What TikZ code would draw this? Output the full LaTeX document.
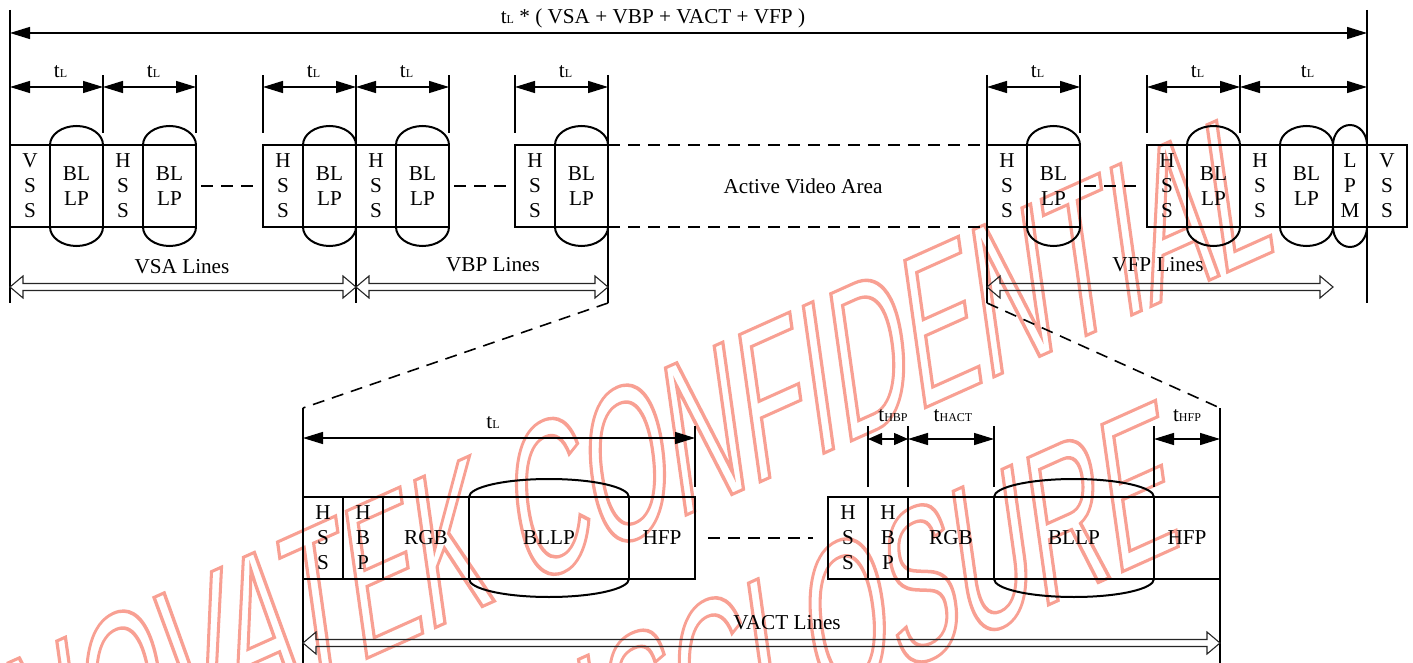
\documentclass[tikz,border=0pt]{standalone}
\usepackage{fontspec}
\setmainfont{Liberation Serif}
\newfontfamily\wmfont[FakeStretch=0.5]{Liberation Sans}
\usetikzlibrary{arrows.meta,calc,positioning}
\definecolor{WmRed}{HTML}{F8A093}
\newcommand{\tsub}[1]{t{\fontsize{6}{7}\selectfont #1}}
\newcommand{\lblfont}{\fontsize{10.6}{12.5}\selectfont}
\newcommand{\wmoutline}[1]{\special{pdf:literal direct 1 Tr 1.6 w}#1\special{pdf:literal direct 0 Tr}}
\newcommand{\hollowarrow}[2]{%
  \draw[hollow] (#1) -- ++(13,-11) -- ++(0,7.5) -- ($(#2)+(-13,-3.5)$)
    -- ++(0,-7.5) -- (#2) -- ++(-13,11) -- ++(0,-7.5)
    -- ($(#1)+(13,3.5)$) -- ++(0,7.5) -- cycle;}

\begin{document}
\begin{tikzpicture}[x=0.5pt,y=-0.5pt,font=\lblfont,
  cell/.style={draw,line width=0.9pt,minimum height=41pt,inner sep=0pt,
    outer sep=0pt,anchor=north west,align=center},
  capline/.style={line width=1pt},
  dim/.style={line width=0.7pt,
    {Triangle[length=10pt,width=6pt]}-{Triangle[length=10pt,width=6pt]}},
  dimsm/.style={line width=0.7pt,
    {Triangle[length=7pt,width=6pt]}-{Triangle[length=7pt,width=6pt]}},
  ext/.style={line width=0.6pt},
  gap/.style={line width=0.8pt,dash pattern=on 6pt off 4pt},
  hollow/.style={line width=0.55pt,draw=black!85},
  tl/.style={midway,anchor=base,yshift=4.75pt,xshift=2pt},
  th/.style={midway,anchor=base,yshift=8.75pt},
  wm/.style={rotate=8,yslant=0.29,text=WmRed,inner sep=0pt,anchor=base west,
    font=\wmfont\fontsize{108}{108}\selectfont}]

\useasboundingbox (0,0) rectangle (1413,663);

% watermark
\node[wm] (wm1) at (20,814) {\wmoutline{NOVATEK CONFIDENTIAL}};
\node[wm] (wm2) at (333,926) {\wmoutline{NO DISCLOSURE}};

% upper row: VSA / VBP lines
\node[cell,minimum width=20pt] (vss1) at (10,145) {V\\S\\S};
\node[cell,minimum width=26.5pt,right=0pt of vss1] (bl1) {BL\\LP};
\node[cell,minimum width=20pt,right=0pt of bl1] (hs1) {H\\S\\S};
\node[cell,minimum width=26.5pt,right=0pt of hs1] (bl2) {BL\\LP};

\node[cell,minimum width=20pt] (hs2) at (263,145) {H\\S\\S};
\node[cell,minimum width=26.5pt,right=0pt of hs2] (bl3) {BL\\LP};
\node[cell,minimum width=20pt,right=0pt of bl3] (hs3) {H\\S\\S};
\node[cell,minimum width=26.5pt,right=0pt of hs3] (bl4) {BL\\LP};

\node[cell,minimum width=20pt] (hs4) at (515,145) {H\\S\\S};
\node[cell,minimum width=26.5pt,right=0pt of hs4] (bl5) {BL\\LP};

% upper row: VFP lines
\node[cell,minimum width=20pt] (hs5) at (987,145) {H\\S\\S};
\node[cell,minimum width=26.5pt,right=0pt of hs5] (bl6) {BL\\LP};

\node[cell,minimum width=20pt] (hs6) at (1147,145) {H\\S\\S};
\node[cell,minimum width=26.5pt,right=0pt of hs6] (bl7) {BL\\LP};
\node[cell,minimum width=20pt,right=0pt of bl7] (hs7) {H\\S\\S};
\node[cell,minimum width=26.5pt,right=0pt of hs7] (bl8) {BL\\LP};
\node[cell,minimum width=17pt,right=0pt of bl8] (lpm) {L\\P\\M};
\node[cell,minimum width=20pt,right=0pt of lpm] (vss2) {V\\S\\S};

\foreach \i in {1,...,8} {
  \draw[capline] (bl\i.north west) arc[start angle=180,end angle=360,x radius=26.5,y radius=19];
  \draw[capline] (bl\i.south east) arc[start angle=0,end angle=180,x radius=26.5,y radius=19];
}
\draw[capline] (lpm.north west) arc[start angle=180,end angle=360,x radius=17,y radius=20];
\draw[capline] (lpm.south east) arc[start angle=0,end angle=180,x radius=17,y radius=20];

\draw[gap,shorten <=2.5pt,shorten >=1.5pt] (bl2.east) -- (hs2.west);
\draw[gap,shorten <=2.5pt,shorten >=1.5pt] (bl4.east) -- (hs4.west);
\draw[gap,shorten <=2pt,shorten >=3.5pt] (bl6.east) -- (hs6.west);
\draw[gap] (bl5.north east) -- (hs5.north west);
\draw[gap] (bl5.south east) -- (hs5.south west);
\node (ava) at (803,186) {Active Video Area};

% frame and extension lines
\coordinate (l0) at (10,10);
\coordinate (r0) at (lpm.east |- 0,10);
\draw[ext] (l0) -- (l0 |- 0,303);
\draw[ext] (r0) -- (r0 |- 0,303);
\draw[ext] (bl3.north east |- 0,75) -- (bl3.north east |- 0,303);
\draw[ext] (bl5.north east |- 0,75) -- (bl5.north east |- 0,303) coordinate (zl);
\draw[ext] (hs5.north west |- 0,75) -- (hs5.north west |- 0,303) coordinate (zr);
\foreach \p in {bl1.north east,bl2.north east,hs2.north west,bl4.north east,
  hs4.north west,bl6.north east,hs6.north west,bl7.north east}
  \draw[ext] (\p) ++(0,-12) -- ++(0,-58);

% dimensions
\draw[dim] (l0 |- 0,33) -- (r0 |- 0,33);
\node[anchor=base] (total) at (653,23.5) {\tsub{L} * ( VSA + VBP + VACT + VFP )};
\draw[dim] (vss1.west |- 0,87) -- (bl1.east |- 0,87) node[tl] {\tsub{L}};
\draw[dim] (hs1.west |- 0,87) -- (bl2.east |- 0,87) node[tl] {\tsub{L}};
\draw[dim] (hs2.west |- 0,87) -- (bl3.east |- 0,87) node[tl] {\tsub{L}};
\draw[dim] (hs3.west |- 0,87) -- (bl4.east |- 0,87) node[tl] {\tsub{L}};
\draw[dim] (hs4.west |- 0,87) -- (bl5.east |- 0,87) node[tl] {\tsub{L}};
\draw[dim] (hs5.west |- 0,87) -- (bl6.east |- 0,87) node[tl] {\tsub{L}};
\draw[dim] (hs6.west |- 0,87) -- (bl7.east |- 0,87) node[tl] {\tsub{L}};
\draw[dim] (hs7.west |- 0,87) -- (lpm.east |- 0,87) node[tl] {\tsub{L}};

% line counts
\coordinate (vsaA) at (vss1.west |- 0,287);
\coordinate (vsaB) at (bl3.east |- 0,287);
\coordinate (vbpB) at (bl5.east |- 0,287);
\coordinate (vfpA) at (hs5.west |- 0,287);
\coordinate (vfpB) at (bl8.east |- 0,287);
\hollowarrow{vsaA}{vsaB}
\hollowarrow{vsaB}{vbpB}
\hollowarrow{vfpA}{vfpB}
\node (vsaL) at (182,267) {VSA Lines};
\node (vbpL) at (493,265) {VBP Lines};
\node (vfpL) at (1158,265) {VFP Lines};

% lower row: one active line, zoomed
\node[cell,minimum width=20pt] (hsa) at (303,497) {H\\S\\S};
\node[cell,minimum width=20pt,right=0pt of hsa] (hbpa) {H\\B\\P};
\node[cell,minimum width=43pt,right=0pt of hbpa] (rgba) {RGB};
\node[cell,minimum width=80pt,right=0pt of rgba] (bllpa) {BLLP};
\node[cell,minimum width=33pt,right=0pt of bllpa] (hfpa) {HFP};

\node[cell,minimum width=20pt] (hsb) at (828,497) {H\\S\\S};
\node[cell,minimum width=20pt,right=0pt of hsb] (hbpb) {H\\B\\P};
\node[cell,minimum width=43pt,right=0pt of hbpb] (rgbb) {RGB};
\node[cell,minimum width=80pt,right=0pt of rgbb] (bllpb) {BLLP};
\node[cell,minimum width=33pt,right=0pt of bllpb] (hfpb) {HFP};

\foreach \p in {bllpa,bllpb} {
  \draw[capline] (\p.north west) arc[start angle=180,end angle=360,x radius=80,y radius=18];
  \draw[capline] (\p.south east) arc[start angle=0,end angle=180,x radius=80,y radius=18];
}
\draw[gap,shorten <=6.5pt,shorten >=7.5pt] (hfpa.east) -- (hsb.west);

\draw[ext] (hsa.north west |- 0,408) coordinate (zlb) -- (hsa.north west |- 0,663);
\draw[ext] (hfpb.north east |- 0,408) coordinate (zrb) -- (hfpb.north east |- 0,663);
\draw[gap] (zl) -- (zlb);
\draw[gap] (zr) -- (zrb);
\foreach \p in {hfpa.north east,hbpb.north west,rgbb.north west,
  rgbb.north east,bllpb.north east}
  \draw[ext] (\p) ++(0,-10) -- ++(0,-61);

\draw[dim] (hsa.west |- 0,438) -- (hfpa.east |- 0,438) node[tl,xshift=-5pt] {\tsub{L}};
\draw[dimsm] (hbpb.west |- 0,439) -- (hbpb.east |- 0,439) node[th,xshift=2.5pt] {\tsub{HBP}};
\draw[dim] (rgbb.west |- 0,439) -- (rgbb.east |- 0,439) node[th,xshift=1pt] {\tsub{HACT}};
\draw[dim] (hfpb.west |- 0,439) -- (hfpb.east |- 0,439) node[th] {\tsub{HFP}};

\coordinate (vactA) at (hsa.west |- 0,643);
\coordinate (vactB) at (hfpb.east |- 0,643);
\hollowarrow{vactA}{vactB}
\node (vactL) at (787,623) {VACT Lines};

\end{tikzpicture}
\end{document}
